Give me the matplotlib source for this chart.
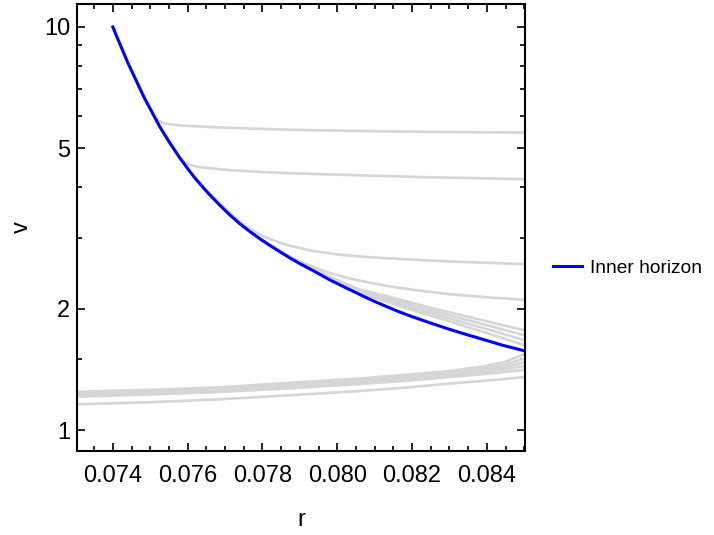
import matplotlib
matplotlib.use("Agg")
import matplotlib.pyplot as plt
from matplotlib.ticker import FixedLocator, NullFormatter, FixedFormatter

plt.rcParams['font.family'] = ['Liberation Sans', 'DejaVu Sans']

# Inner horizon (blue)
blue_r = [0.074000, 0.074080, 0.074187, 0.074294, 0.074401, 0.074508, 0.074615, 0.074722,
          0.074829, 0.074936, 0.075043, 0.075150, 0.075257, 0.075390, 0.075524, 0.075658,
          0.075791, 0.075992, 0.076193, 0.076393, 0.076594, 0.076861, 0.077128, 0.077396,
          0.077663, 0.077930, 0.078198, 0.078465, 0.078733, 0.079000, 0.079401, 0.079802,
          0.080203, 0.080684, 0.081032, 0.081406, 0.081701, 0.082021, 0.082476, 0.082930,
          0.083358, 0.083813, 0.084401, 0.085016]
blue_v = [10.0, 9.580, 9.075, 8.596, 8.143, 7.757, 7.389, 7.039,
          6.704, 6.423, 6.154, 5.895, 5.647, 5.395, 5.154, 4.938,
          4.731, 4.461, 4.220, 4.015, 3.829, 3.610, 3.416, 3.248,
          3.107, 2.982, 2.871, 2.769, 2.672, 2.587, 2.472, 2.357,
          2.260, 2.150, 2.078, 2.008, 1.957, 1.908, 1.845, 1.786,
          1.736, 1.687, 1.625, 1.571]

# Gray trajectories (upper family)
g1_r = [0.074963, 0.075043, 0.075123, 0.075203, 0.075310, 0.075471, 0.075684, 0.076059,
        0.076674, 0.077663, 0.078733, 0.080337, 0.082209, 0.085070]
g1_v = [6.350, 6.147, 5.980, 5.872, 5.799, 5.746, 5.713, 5.681,
        5.642, 5.597, 5.559, 5.524, 5.495, 5.467]

g2_r = [0.075390, 0.075524, 0.075658, 0.075765, 0.075872, 0.076005, 0.076193, 0.076460,
        0.077128, 0.077930, 0.078733, 0.080337, 0.082209, 0.085070]
g2_v = [5.380, 5.140, 4.924, 4.758, 4.637, 4.564, 4.512, 4.474,
        4.411, 4.371, 4.336, 4.292, 4.242, 4.190]

g3_r = [0.076193, 0.076594, 0.076995, 0.077342, 0.077610, 0.077850, 0.078064, 0.078332,
        0.078733, 0.079348, 0.080070, 0.080872, 0.081674, 0.083011, 0.085070]
g3_v = [4.232, 3.847, 3.529, 3.311, 3.175, 3.086, 3.016, 2.945,
        2.865, 2.781, 2.721, 2.683, 2.657, 2.619, 2.578]

g4_r = [0.076594, 0.077396, 0.078064, 0.078599, 0.079000, 0.079401, 0.079802, 0.080337,
        0.080872, 0.081406, 0.082209, 0.083011, 0.084080, 0.085070]
g4_v = [3.840, 3.263, 2.920, 2.733, 2.619, 2.531, 2.452, 2.376,
        2.320, 2.271, 2.216, 2.172, 2.132, 2.102]

bundle_r = [0.076594, 0.077396, 0.078064, 0.078599, 0.079000, 0.079401, 0.079802,
            0.080604, 0.081406, 0.082209, 0.083011, 0.084080, 0.085070]
g5_v = [3.840, 3.263, 2.920, 2.729, 2.604, 2.495, 2.398, 2.232, 2.138, 2.043, 1.957, 1.853, 1.761]
g6_v = [3.840, 3.263, 2.920, 2.729, 2.604, 2.495, 2.398, 2.219, 2.114, 2.014, 1.924, 1.812, 1.711]
g7_v = [3.840, 3.263, 2.920, 2.729, 2.604, 2.495, 2.398, 2.207, 2.090, 1.986, 1.891, 1.771, 1.663]
g8_v = [3.840, 3.263, 2.920, 2.729, 2.604, 2.495, 2.398, 2.194, 2.066, 1.957, 1.859, 1.730, 1.616]

# Gray trajectories (lower family)
low_r = [0.072850, 0.074989, 0.076861, 0.078866, 0.080604, 0.081941, 0.083011,
         0.083813, 0.084481, 0.085070]
l1_v = [1.2425, 1.2582, 1.2764, 1.3119, 1.3422, 1.3733, 1.4010, 1.4334, 1.4748, 1.5527]
l2_v = [1.2320, 1.2496, 1.2677, 1.3044, 1.3346, 1.3614, 1.3890, 1.4171, 1.4499, 1.5132]
l3_v = [1.2215, 1.2390, 1.2568, 1.2933, 1.3232, 1.3499, 1.3772, 1.4010, 1.4293, 1.4790]
l4_v = [1.2145, 1.2320, 1.2496, 1.2822, 1.3119, 1.3384, 1.3655, 1.3890, 1.4131, 1.4457]
l5_v = [1.2076, 1.2250, 1.2425, 1.2713, 1.3007, 1.3270, 1.3538, 1.3733, 1.3930, 1.4131]
lone_v = [1.1568, 1.1722, 1.1918, 1.2215, 1.2496, 1.2764, 1.3044, 1.3217, 1.3384, 1.3553]

x_ticks = [0.074, 0.076, 0.078, 0.080, 0.082, 0.084]
x_labels = ["0.074", "0.076", "0.078", "0.080", "0.082", "0.084"]
y_ticks = [1, 2, 5, 10]
y_labels = ["1", "2", "5", "10"]
y_minor = [1.5, 3, 4, 6, 7, 8, 9]

gray = '#d6d6d6'
fig = plt.figure(figsize=(7.14, 5.35), dpi=100)
ax = fig.add_axes([0.1078, 0.157, 0.6275, 0.8355])

gray_sets = [(g1_r, g1_v), (g2_r, g2_v), (g3_r, g3_v), (g4_r, g4_v),
             (bundle_r, g5_v), (bundle_r, g6_v), (bundle_r, g7_v), (bundle_r, g8_v),
             (low_r, l1_v), (low_r, l2_v), (low_r, l3_v), (low_r, l4_v), (low_r, l5_v),
             (low_r, lone_v)]
for rr, vv in gray_sets:
    ax.plot(rr, vv, color=gray, lw=1.9, solid_joinstyle='round')

ax.plot(blue_r, blue_v, color='#0000ff', lw=2.2, label='Inner horizon', solid_joinstyle='round')

ax.set_yscale('log')
ax.set_xlim(0.07304, 0.08502)
ax.set_ylim(0.887, 11.4)

ax.xaxis.set_major_locator(FixedLocator(x_ticks))
ax.xaxis.set_major_formatter(FixedFormatter(x_labels))
ax.xaxis.set_minor_locator(FixedLocator([0.0730 + 0.0005 * i for i in range(25)]))
ax.yaxis.set_major_locator(FixedLocator(y_ticks))
ax.yaxis.set_major_formatter(FixedFormatter(y_labels))
ax.yaxis.set_minor_locator(FixedLocator(y_minor))
ax.yaxis.set_minor_formatter(NullFormatter())

ax.tick_params(which='both', direction='in', top=True, right=True, width=1.2, labelsize=17)
ax.tick_params(which='major', length=6)
ax.tick_params(which='minor', length=3.5)
ax.tick_params(axis='x', which='major', pad=10)
ax.tick_params(axis='y', which='major', pad=5)
for s in ax.spines.values():
    s.set_linewidth(1.5)

ax.set_xlabel('r', fontsize=17, labelpad=16)
ax.set_ylabel('v', fontsize=17, labelpad=8)

fig.legend(loc='center left', bbox_to_anchor=(0.7745, 0.499), bbox_transform=fig.transFigure,
           frameon=False, fontsize=13.8, handlelength=1.5, handletextpad=0.45,
           borderpad=0, borderaxespad=0)

fig.savefig('out.png', dpi=100)
